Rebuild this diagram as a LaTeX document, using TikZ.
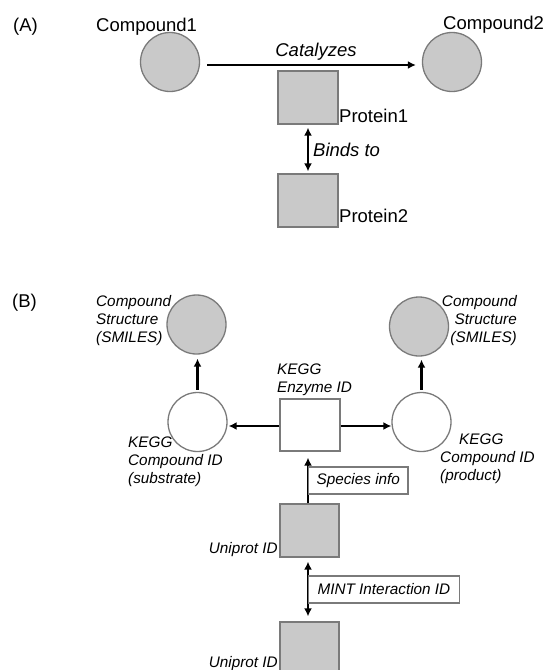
\documentclass[tikz,border=0pt]{standalone}
\usepackage{fontspec}
\setmainfont{Liberation Sans}
\usetikzlibrary{arrows.meta}
\definecolor{shfill}{HTML}{C9C9C9}
\definecolor{shdraw}{HTML}{7A7A7A}
\begin{document}
\begin{tikzpicture}[x=1pt,y=-1pt,
  fontA/.style={font=\fontsize{18.5}{21}\selectfont, inner sep=0},
  fontAi/.style={font=\fontsize{18.5}{21}\selectfont\itshape, inner sep=0},
  fontB/.style={font=\fontsize{15.3}{18}\selectfont\itshape, inner sep=0, align=left},
  graycirc/.style={circle, draw=shdraw, line width=1.3pt, fill=shfill, minimum size=59pt, inner sep=0},
  whitecirc/.style={circle, draw=shdraw, line width=1.3pt, fill=white, minimum size=59pt, inner sep=0},
  graybox/.style={rectangle, draw=shdraw, line width=1.3pt, fill=shfill, minimum width=60pt, minimum height=53pt, inner sep=0},
  whitebox/.style={rectangle, draw=shdraw, line width=1.3pt, fill=white, minimum width=60pt, minimum height=52pt, inner sep=0},
  tagbox/.style={rectangle, draw=shdraw, line width=1.2pt, fill=white, minimum height=27pt, inner ysep=0, inner xsep=8pt, font=\fontsize{15.3}{18}\selectfont\itshape},
  arr/.style={line width=2.3pt, -{Latex[length=8pt,width=8pt]}},
  darr/.style={line width=2.3pt, {Latex[length=8pt,width=8pt]}-{Latex[length=8pt,width=8pt]}}
]
\useasboundingbox (0,0) rectangle (553,670);

% ---------- (A) ----------
\node[fontA, anchor=base west] (labA) at (13,31) {(A)};
\node[graycirc] (c1) at (170,62) {};
\node[graycirc] (c2) at (452,62) {};
\node[fontA, anchor=base west] (c1l) at (96,31) {Compound1};
\node[fontA, anchor=base west] (c2l) at (443,29) {Compound2};
\node[graybox] (p1) at (308,97.5) {};
\node[graybox] (p2) at (308,200.5) {};
\draw[arr, shorten <=7pt, shorten >=6pt] ([yshift=-3pt]c1.east) -- ([yshift=-3pt]c2.west);
\node[fontAi, anchor=base] (cat) at (316,56) {Catalyzes};
\node[fontA, anchor=base west] (p1l) at (339,122) {Protein1};
\node[fontA, anchor=base west] (p2l) at (339,222) {Protein2};
\draw[darr, shorten <=3pt, shorten >=2pt] (p1.south) -- (p2.north);
\node[fontAi, anchor=base west] (bind) at (313,156) {Binds to};

% ---------- (B) ----------
\node[fontA, anchor=base west] (labB) at (12,307) {(B)};
\node[graycirc] (s1) at (196.5,324.5) {};
\node[graycirc] (s2) at (419,326.5) {};
\node[whitecirc] (k1) at (197.5,422) {};
\node[whitecirc] (k2) at (421.5,422) {};
\node[whitebox] (e) at (310,425) {};
\node[graybox, minimum width=59pt] (u1) at (309.5,530.5) {};
\node[graybox, minimum width=59pt] (u2) at (309.5,648.5) {};

% multi-line nodes: base anchor is the baseline of the last line
\node[fontB, anchor=base west] (s1l) at (96,342) {Compound\\Structure\\(SMILES)};
\node[fontB, anchor=base east, align=right] (s2l) at (517,342) {Compound\\Structure\\(SMILES)};
\node[fontB, anchor=base west] (el) at (277,392) {KEGG\\Enzyme ID};
\node[fontB, anchor=base west] (k1l) at (128,483) {KEGG\\Compound ID\\(substrate)};
\node[fontB, anchor=base west] (k2l) at (440,480) {\hspace*{19pt}KEGG\\Compound ID\\(product)};
\node[fontB, anchor=base east] (u1l) at (278,553) {Uniprot ID};
\node[fontB, anchor=base east] (u2l) at (278,667) {Uniprot ID};

\draw[arr, shorten <=2pt, shorten >=4pt] (k1.north) -- (k1.north |- s1.south);
\draw[arr, shorten <=2pt, shorten >=3pt] (k2.north) -- (k2.north |- s2.south);
\draw[arr, shorten >=1pt] ([yshift=-1pt]e.west) -- ([yshift=-1pt]e.west -| k1.east);
\draw[arr] ([yshift=-1pt]e.east) -- ([yshift=-1pt]e.east -| k2.west);
\draw[arr, shorten >=6pt] ([xshift=-1.5pt]u1.north) -- ([xshift=-1.5pt]u1.north |- e.south);
\draw[darr, shorten <=4pt, shorten >=5pt] ([xshift=-1.5pt]u1.south) -- ([xshift=-1.5pt]u2.north);
\node[tagbox, anchor=west] (sp) at (308,480.5) {Species info};
\node[tagbox, anchor=west, inner xsep=9pt] (mint) at (308,589.5) {MINT Interaction ID};
\end{tikzpicture}
\end{document}
